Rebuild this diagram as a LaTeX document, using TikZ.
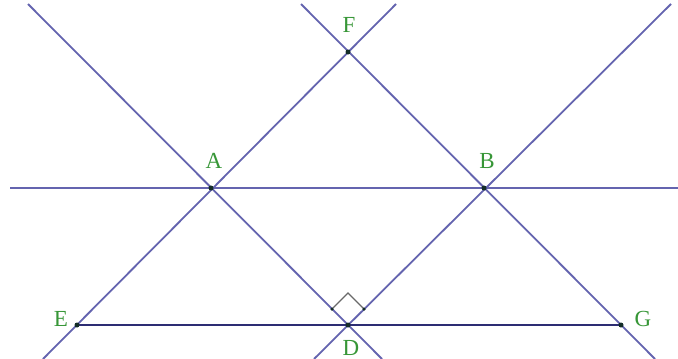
\documentclass[tikz,border=0pt]{standalone}
\usepackage{fontspec}
\setmainfont{Liberation Serif}

\definecolor{linecol}{RGB}{100,100,175}
\definecolor{segcol}{RGB}{45,45,115}
\definecolor{labelcol}{RGB}{55,150,55}
\definecolor{dotcol}{RGB}{20,45,40}
\definecolor{anglecol}{RGB}{105,105,105}

\tikzset{
  geoline/.style={color=linecol, line width=1.8pt},
  ptdot/.style={circle, fill=dotcol, inner sep=0pt, minimum size=5pt},
  smalldot/.style={circle, fill=dotcol, inner sep=0pt, minimum size=3.5pt},
  ptlabel/.style={text=labelcol, font=\fontsize{23}{23}\selectfont}
}

\begin{document}
\begin{tikzpicture}[x=1pt,y=-1pt]
    \useasboundingbox (0,0) rectangle (678,359);

    % Points
    \coordinate (A) at (211,188);
    \coordinate (B) at (484,188);
    \coordinate (F) at (348,52);
    \coordinate (D) at (348,325);
    \coordinate (E) at (77,325);
    \coordinate (G) at (621,325);

    % Ends of the lines
    \coordinate (hl) at (10,188);
    \coordinate (hr) at (678,188);
    \coordinate (efl) at (43,359);
    \coordinate (efu) at (396,4);
    \coordinate (fgu) at (301,4);
    \coordinate (fgl) at (655,359);
    \coordinate (adu) at (28,4);
    \coordinate (adl) at (382,359);
    \coordinate (bdu) at (671,4);
    \coordinate (bdl) at (314,359);

    % Lines
    \draw[geoline] (hl) -- (hr);
    \draw[geoline] (efl) -- (efu);
    \draw[geoline] (fgu) -- (fgl);
    \draw[geoline] (adu) -- (adl);
    \draw[geoline] (bdu) -- (bdl);

    % Segment EG
    \draw[color=segcol, line width=2pt] (E) -- (G);

    % Right angle at D
    \coordinate (ra1) at (332,309);
    \coordinate (ra2) at (348,293);
    \coordinate (ra3) at (364,309);
    \draw[color=anglecol, line width=1.4pt] (ra1) -- (ra2) -- (ra3);
    \node[smalldot] (ra1dot) at (ra1) {};
    \node[smalldot] (ra3dot) at (ra3) {};

    % Dots
    \foreach \p in {A,B,F,D,E,G}
        \node[ptdot] (dot\p) at (\p) {};

    % Labels
    \node[ptlabel] (labA) at (214,161) {A};
    \node[ptlabel] (labB) at (487,161) {B};
    \node[ptlabel] (labF) at (349,25) {F};
    \node[ptlabel] (labE) at (61,319) {E};
    \node[ptlabel] (labG) at (643,319) {G};
    \node[ptlabel] (labD) at (351,348) {D};
\end{tikzpicture}
\end{document}
